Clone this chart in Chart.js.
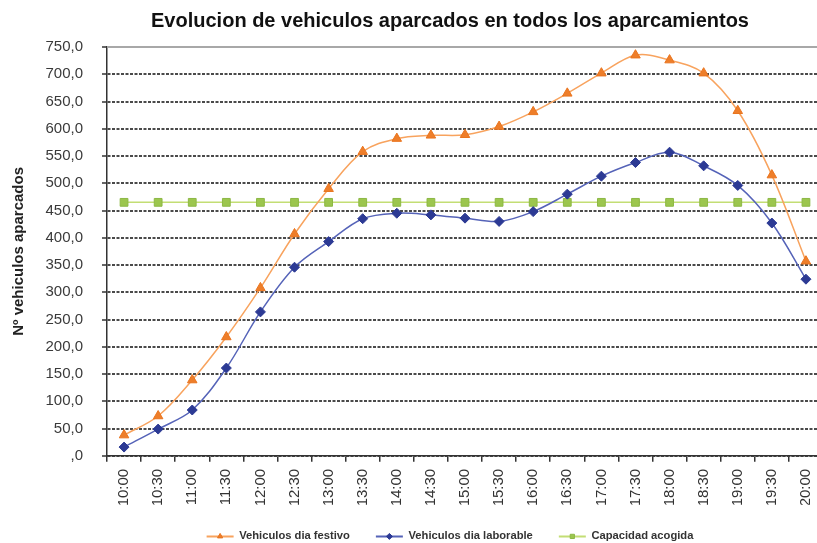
<!DOCTYPE html>
<html><head><meta charset="utf-8">
<script src="https://cdn.jsdelivr.net/npm/chart.js@4.4.1/dist/chart.umd.min.js"></script>
<style>
html,body{margin:0;padding:0;overflow:hidden;background:#fff;width:817px;height:543px}
#wrap{position:absolute;left:0;top:0;width:900px;height:552px}
</style>
</head><body><div id="wrap"><canvas id="c" width="900" height="552"></canvas></div>
<script>
const times = ["10:00","10:30","11:00","11:30","12:00","12:30","13:00","13:30","14:00","14:30","15:00","15:30","16:00","16:30","17:00","17:30","18:00","18:30","19:00","19:30","20:00"];
const festivo = [38,73,139,218,308,407,490,558,582,588,589,604,631,665,702,735,726,702,633,515,357];
const laborable = [16,49,84,161,264,346,393,435,445,442,436,430,448,480,513,538,557,532,496,427,324];
const capacidad = [465,465,465,465,465,465,465,465,465,465,465,465,465,465,465,465,465,465,465,465,465];
const seriesNames = ["Vehiculos dia festivo","Vehiculos dia laborable","Capacidad acogida"];
const yMin = 0, yMax = 750, yStep = 50;
const titleText = "Evolucion de vehiculos aparcados en todos los aparcamientos";
const yTitle = "Nº vehiculos aparcados";

Chart.defaults.font.family = "'Liberation Sans', Arial, sans-serif";

const extras = {
  id: 'extras',
  beforeDatasetsDraw(chart) {
    const {ctx, chartArea: a} = chart;
    ctx.save();
    ctx.strokeStyle = '#a8a8a8';
    ctx.lineWidth = 2;
    ctx.beginPath();
    ctx.moveTo(a.left, a.top);
    ctx.lineTo(a.right, a.top);
    ctx.stroke();
    ctx.restore();
  },
  afterDraw(chart) {
    const {ctx} = chart;
    const lg = chart.legend;
    const bw = lg.options.labels.boxWidth;
    lg.legendHitBoxes.forEach((hb, i) => {
      const ds = chart.data.datasets[i];
      ctx.save();
      ctx.fillStyle = ds.pointBackgroundColor;
      ctx.strokeStyle = ds.pointBorderColor;
      ctx.lineWidth = 1;
      Chart.helpers.drawPoint(ctx, {pointStyle: ds.pointStyle, radius: 3, rotation: 0, borderWidth: 1},
        hb.left + bw / 2, hb.top + hb.height / 2);
      ctx.restore();
    });
  }
};

new Chart(document.getElementById('c'), {
  type: 'line',
  data: {
    labels: times,
    datasets: [
      {label: seriesNames[0], data: festivo, borderColor: '#F8A35E', backgroundColor: '#F8A35E', borderWidth: 1.5,
       pointStyle: 'triangle', pointRadius: 5.5, pointBackgroundColor: '#EE7E2A', pointBorderColor: '#E9741E', pointBorderWidth: 1, tension: 0.35},
      {label: seriesNames[1], data: laborable, borderColor: '#5563B8', backgroundColor: '#5563B8', borderWidth: 1.5,
       pointStyle: 'rectRot', pointRadius: 5, pointBackgroundColor: '#2C3A94', pointBorderColor: '#2C3A94', pointBorderWidth: 1, tension: 0.35},
      {label: seriesNames[2], data: capacidad, borderColor: '#C3DE74', backgroundColor: '#C3DE74', borderWidth: 1.5,
       pointStyle: 'rect', pointRadius: 5.5, pointBackgroundColor: '#9CC64E', pointBorderColor: '#8DB845', pointBorderWidth: 1, tension: 0}
    ]
  },
  options: {
    responsive: false,
    animation: false,
    layout: {padding: 0},
    plugins: {
      title: {display: true, text: titleText, color: '#111', font: {size: 20, weight: 'bold'}, padding: {top: 9, bottom: 14}},
      legend: {
        position: 'bottom',
        labels: {
          boxWidth: 27, boxHeight: 2, padding: 26, color: '#333', font: {size: 11.2, weight: 'bold'},
          generateLabels(chart) {
            return chart.data.datasets.map((ds, i) => ({text: ds.label, fillStyle: ds.borderColor, strokeStyle: ds.borderColor, lineWidth: 0, hidden: false, datasetIndex: i, fontColor: '#333'}));
          }
        }
      },
      tooltip: {enabled: false}
    },
    scales: {
      x: {
        offset: true,
        grid: {offset: true, drawOnChartArea: false, tickLength: 6, color: '#333', lineWidth: 1.5},
        border: {color: '#333', width: 1.5},
        ticks: {autoSkip: false, maxRotation: 90, minRotation: 90, color: '#333', font: {size: 15}, padding: 7},
        afterFit(s) { s.height = 49; }
      },
      y: {
        min: yMin, max: yMax,
        ticks: {stepSize: yStep, color: '#3a3a3a', font: {size: 15}, padding: 19,
          callback: v => v === 0 ? ',0' : v.toFixed(1).replace('.', ',')},
        grid: {color: c => (c.tick && c.tick.value === yMax) ? 'rgba(0,0,0,0)' : '#4a4a4a', lineWidth: 2,
               tickLength: 5, tickColor: '#333', tickWidth: 1.5, tickBorderDash: []},
        border: {color: '#333', width: 1.5, dash: [3, 1.5]},
        title: {display: true, text: yTitle, color: '#222', font: {size: 15, weight: 'bold'}, padding: {top: 10, bottom: 0}},
        afterFit(s) { s.width = 107; }
      },
      yr: {
        position: 'right', display: true, min: yMin, max: yMax,
        grid: {drawOnChartArea: false, drawTicks: false},
        border: {display: false},
        ticks: {display: false},
        afterFit(s) { s.width = 77; }
      }
    }
  },
  plugins: [extras]
});
</script>
</body></html>
